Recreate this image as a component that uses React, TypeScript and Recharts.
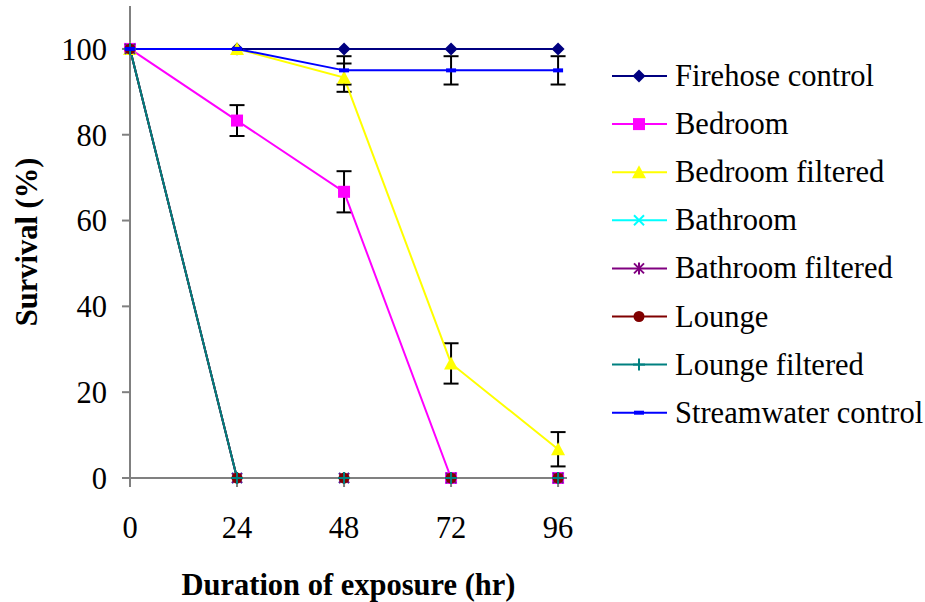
import React from 'react';
import { LineChart, Line, XAxis, YAxis, ErrorBar } from 'recharts';

const hours = [0, 24, 48, 72, 96];
const yTicks = [0, 20, 40, 60, 80, 100];

const firehose = [100, 100, 100, 100, 100];
const bedroom = [100, 83.3, 66.7, 0, 0];
const bedroomErr = [null, 3.6, 4.8, null, null];
const bedroomFiltered = [100, 100, 93.3, 26.7, 6.7];
const bedroomFilteredErr = [null, null, 3.3, 4.7, 4];
const bathroom = [100, 0, 0, 0, 0];
const bathroomFiltered = [100, 0, 0, 0, 0];
const lounge = [100, 0, 0, 0, 0];
const loungeFiltered = [100, 0, 0, 0, 0];
const streamwater = [100, 100, 95, 95, 95];
const streamwaterErr = [null, null, 3.3, 3.3, 3.3];

const FONT = 'Liberation Serif, Times New Roman, serif';

const series = [
  { key: 'firehose', name: 'Firehose control', color: '#000080', shape: 'diamond' },
  { key: 'bedroom', name: 'Bedroom', color: '#FF00FF', shape: 'square', err: 'bedroomErr' },
  { key: 'bedroomFiltered', name: 'Bedroom filtered', color: '#FFFF00', shape: 'triangle', err: 'bedroomFilteredErr' },
  { key: 'bathroom', name: 'Bathroom', color: '#00FFFF', shape: 'x' },
  { key: 'bathroomFiltered', name: 'Bathroom filtered', color: '#800080', shape: 'star' },
  { key: 'lounge', name: 'Lounge', color: '#800000', shape: 'circle' },
  { key: 'loungeFiltered', name: 'Lounge filtered', color: '#008080', shape: 'plus' },
  { key: 'streamwater', name: 'Streamwater control', color: '#0000FF', shape: 'dash', err: 'streamwaterErr' },
];

const data = hours.map((h, i) => ({
  hour: h,
  firehose: firehose[i],
  bedroom: bedroom[i],
  bedroomErr: bedroomErr[i],
  bedroomFiltered: bedroomFiltered[i],
  bedroomFilteredErr: bedroomFilteredErr[i],
  bathroom: bathroom[i],
  bathroomFiltered: bathroomFiltered[i],
  lounge: lounge[i],
  loungeFiltered: loungeFiltered[i],
  streamwater: streamwater[i],
  streamwaterErr: streamwaterErr[i],
}));

function Marker({ cx, cy, shape, color }: { cx: number; cy: number; shape: string; color: string }) {
  switch (shape) {
    case 'diamond':
      return <polygon points={`${cx},${cy - 6.5} ${cx + 6.5},${cy} ${cx},${cy + 6.5} ${cx - 6.5},${cy}`} fill={color} />;
    case 'square':
      return <rect x={cx - 6} y={cy - 6} width={12} height={12} fill={color} />;
    case 'triangle':
      return <polygon points={`${cx},${cy - 7} ${cx + 7},${cy + 6} ${cx - 7},${cy + 6}`} fill={color} />;
    case 'x':
      return (
        <g stroke={color} strokeWidth={2}>
          <line x1={cx - 5} y1={cy - 5} x2={cx + 5} y2={cy + 5} />
          <line x1={cx - 5} y1={cy + 5} x2={cx + 5} y2={cy - 5} />
        </g>
      );
    case 'star':
      return (
        <g stroke={color} strokeWidth={2}>
          <line x1={cx - 5} y1={cy - 5} x2={cx + 5} y2={cy + 5} />
          <line x1={cx - 5} y1={cy + 5} x2={cx + 5} y2={cy - 5} />
          <line x1={cx} y1={cy - 6} x2={cx} y2={cy + 6} />
        </g>
      );
    case 'circle':
      return <circle cx={cx} cy={cy} r={5.5} fill={color} />;
    case 'plus':
      return (
        <g stroke={color} strokeWidth={2}>
          <line x1={cx - 6} y1={cy} x2={cx + 6} y2={cy} />
          <line x1={cx} y1={cy - 6} x2={cx} y2={cy + 6} />
        </g>
      );
    case 'dash':
      return <rect x={cx - 5} y={cy - 2} width={10} height={4} fill={color} />;
    default:
      return null;
  }
}

const legendTop = 76;
const legendStep = 48.1;

export default function App() {
  return (
    <div style={{ position: 'absolute', left: 0, top: 0, width: 925, height: 602, background: '#fff' }}>
      <LineChart width={925} height={602} data={data} margin={{ top: 6, right: 358, bottom: 0, left: 0 }}>
        <XAxis
          dataKey="hour"
          type="number"
          domain={[0, 98]}
          ticks={hours}
          height={124}
          axisLine={{ stroke: '#808080', strokeWidth: 2 }}
          tickLine={{ stroke: '#808080', strokeWidth: 2 }}
          tickSize={9}
          tickMargin={29}
          tick={{ fontSize: 30.5, fill: '#000', fontFamily: FONT }}
          label={{
            value: 'Duration of exposure (hr)',
            position: 'insideBottom',
            offset: 7,
            style: { fontSize: 30.5, fontWeight: 'bold', fill: '#000', fontFamily: FONT },
          }}
        />
        <YAxis
          type="number"
          domain={[0, 110]}
          ticks={yTicks}
          width={130}
          axisLine={{ stroke: '#808080', strokeWidth: 2 }}
          tickLine={{ stroke: '#808080', strokeWidth: 2 }}
          tickSize={8}
          tickMargin={15}
          tick={{ fontSize: 30.5, fill: '#000', fontFamily: FONT }}
          label={{
            content: (props: any) => {
              const vb = props.viewBox || { y: 6, height: 472 };
              const cy = vb.y + vb.height / 2;
              return (
                <text
                  x={37}
                  y={cy}
                  transform={`rotate(-90, 37, ${cy})`}
                  textAnchor="middle"
                  fontSize={30.5}
                  fontWeight="bold"
                  fontFamily={FONT}
                  fill="#000"
                >
                  Survival (%)
                </text>
              );
            },
          }}
        />
        {series.map((s) => (
          <Line
            key={s.key}
            type="linear"
            dataKey={s.key}
            name={s.name}
            stroke={s.color}
            strokeWidth={2}
            isAnimationActive={false}
            activeDot={false}
            dot={(p: any) => (
              <Marker key={`${s.key}-${p.index}`} cx={p.cx} cy={p.cy} shape={s.shape} color={s.color} />
            )}
          >
            {s.err ? (
              <ErrorBar dataKey={s.err} direction="y" width={7.5} stroke="#000" strokeWidth={2} />
            ) : null}
          </Line>
        ))}
      </LineChart>
      <svg width={925} height={602} style={{ position: 'absolute', left: 0, top: 0, pointerEvents: 'none' }}>
        {series.map((s, i) => {
          const y = legendTop + i * legendStep;
          return (
            <g key={s.key}>
              <line x1={612} y1={y} x2={667} y2={y} stroke={s.color} strokeWidth={2} />
              <Marker cx={639} cy={y} shape={s.shape} color={s.color} />
              <text x={675} y={y + 10} fontSize={30.5} fontFamily={FONT} fill="#000">
                {s.name}
              </text>
            </g>
          );
        })}
      </svg>
    </div>
  );
}
